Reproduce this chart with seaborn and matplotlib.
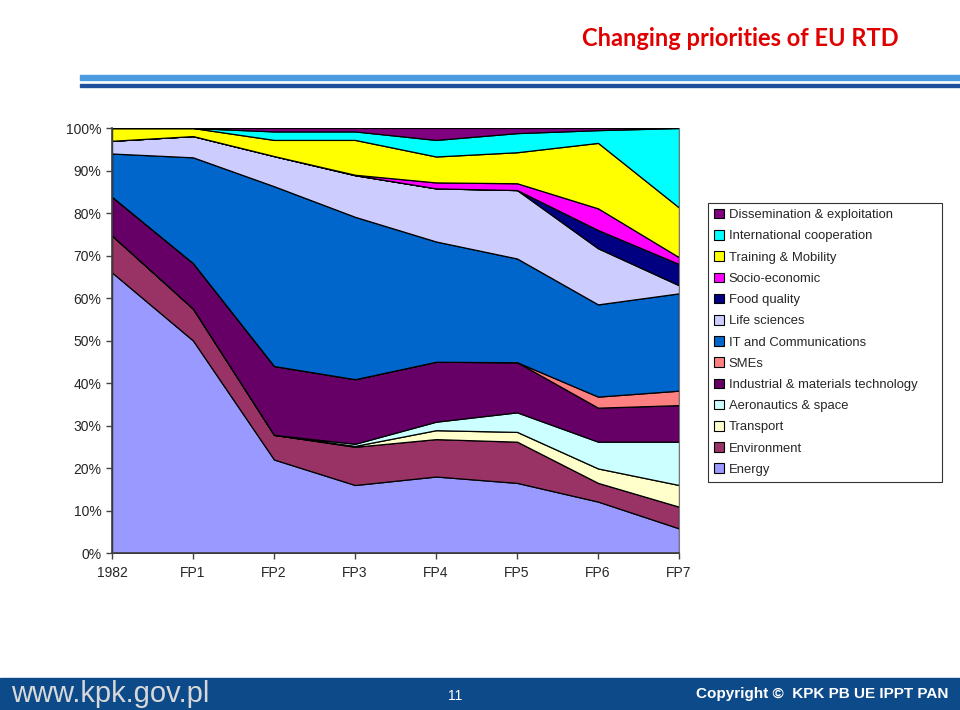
import numpy as np
import pandas as pd
import matplotlib
matplotlib.use("Agg")
import matplotlib.pyplot as plt
import seaborn as sns
from matplotlib.patches import Patch, Rectangle
from matplotlib.ticker import PercentFormatter

# programmes on the x axis
programmes = ["1982", "FP1", "FP2", "FP3", "FP4", "FP5", "FP6", "FP7"]

# share of budget per theme (%), bottom layer first
energy = [66, 50, 22, 16, 18, 16.5, 12.1, 5.8]
environment = [8.7, 7.5, 5.8, 9, 8.8, 9.7, 4.4, 5.1]
transport = [0, 0, 0, 0.2, 2.1, 2.3, 3.4, 5.1]
aeronautics = [0, 0, 0, 0.5, 2, 4.6, 6.3, 10.2]
industrial = [9.1, 10.7, 16.2, 15.2, 14.1, 11.8, 8, 8.6]
smes = [0, 0, 0, 0, 0, 0, 2.6, 3.4]
it_comm = [10.2, 24.9, 42.3, 38.2, 28.3, 24.4, 21.7, 22.9]
life_sci = [3, 5, 7.1, 9.8, 12.5, 16.1, 13.2, 1.9]
food = [0, 0, 0, 0, 0, 0, 4.3, 5]
socio = [0, 0, 0, 0.1, 1.4, 1.6, 5.1, 1.6]
training = [3, 1.9, 3.8, 8.2, 6.1, 7.3, 15.4, 11.7]
intl_coop = [0, 0, 2, 2, 3.9, 4.5, 3, 18.7]
dissem = [0, 0, 0.8, 0.8, 2.8, 1.2, 0.5, 0]

names = ["Energy", "Environment", "Transport", "Aeronautics & space",
         "Industrial & materials technology", "SMEs", "IT and Communications",
         "Life sciences", "Food quality", "Socio-economic", "Training & Mobility",
         "International cooperation", "Dissemination & exploitation"]
colors = ["#9999FF", "#993366", "#FFFFCC", "#CCFFFF", "#660066", "#FF8080",
          "#0066CC", "#CCCCFF", "#000080", "#FF00FF", "#FFFF00", "#00FFFF",
          "#800080"]

df = pd.DataFrame(
    [energy, environment, transport, aeronautics, industrial, smes, it_comm,
     life_sci, food, socio, training, intl_coop, dissem],
    index=names, columns=programmes).T

sns.set_theme(style="white")
plt.rcParams["font.family"] = ["Liberation Sans", "DejaVu Sans"]

fig = plt.figure(figsize=(9.6, 7.1), dpi=100)
ax = fig.add_axes([0.1167, 0.2211, 0.5906, 0.5986])

x = np.arange(len(programmes))
ax.stackplot(x, df.T.values, colors=colors, edgecolor="black", linewidth=0.9)

ax.set_xlim(0, len(programmes) - 1)
ax.set_ylim(0, 100)
ax.set_yticks(range(0, 101, 10))
ax.yaxis.set_major_formatter(PercentFormatter(decimals=0))
ax.set_xticks(x)
ax.set_xticklabels(programmes)
ax.tick_params(axis="both", labelsize=10, length=4, width=1, color="#444444",
               direction="out", left=True, bottom=True)
ax.tick_params(axis="x", pad=5)
ax.spines["top"].set_visible(False)
ax.spines["left"].set_color("#444444")
ax.spines["bottom"].set_color("#444444")
ax.spines["right"].set_color("#777777")
ax.spines["right"].set_linewidth(0.8)

handles = [Patch(facecolor=c, edgecolor="black", linewidth=0.8)
           for c in colors][::-1]
leg = fig.legend(handles, names[::-1], loc="upper left",
                 bbox_to_anchor=(0.7375, 0.714, 0.244, 0), mode="expand",
                 frameon=True, fontsize=9.4,
                 handlelength=0.75, handleheight=0.75, handletextpad=0.4,
                 labelspacing=0.68, borderpad=0.45, fancybox=False,
                 borderaxespad=0)
leg.get_frame().set_edgecolor("black")
leg.get_frame().set_linewidth(0.8)

# header
fig.text(0.771, 0.946, "Changing priorities of EU RTD", color="#E00000",
         fontsize=17, fontweight="bold", family=["Lato", "DejaVu Sans"],
         ha="center", va="center")
fig.patches.append(Rectangle((0.083, 0.888), 0.917, 0.006, color="#4A9BE0",
                             transform=fig.transFigure))
fig.patches.append(Rectangle((0.083, 0.877), 0.917, 0.005, color="#1F4E9A",
                             transform=fig.transFigure))

# footer band
fig.patches.append(Rectangle((0, 0), 1, 0.045, color="#0D4A8A",
                             transform=fig.transFigure))
fig.text(0.012, 0.022, "www.kpk.gov.pl", color="#D8D8D8", fontsize=21,
         ha="left", va="center")
fig.text(0.474, 0.020, "11", color="white", fontsize=10, ha="center",
         va="center")
fig.text(0.988, 0.022, "Copyright \u00a9  KPK PB UE IPPT PAN", color="white",
         fontsize=11, fontweight="bold", ha="right", va="center")

fig.savefig("out.png", dpi=100)
